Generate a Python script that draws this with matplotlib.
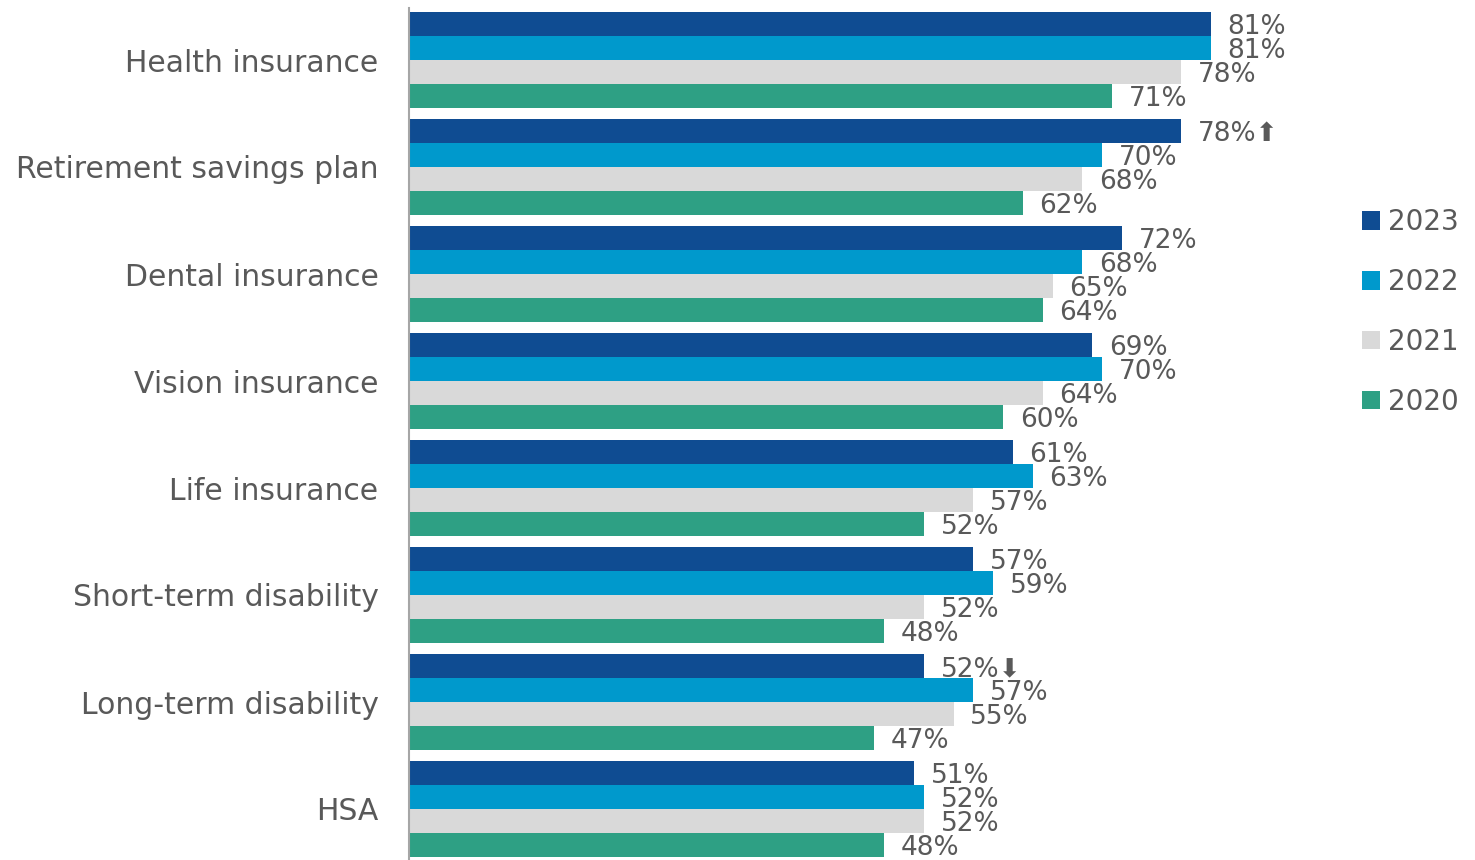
import matplotlib
matplotlib.use("Agg")
import matplotlib.pyplot as plt
from matplotlib.patches import Patch

categories = ["Health insurance", "Retirement savings plan", "Dental insurance",
              "Vision insurance", "Life insurance", "Short-term disability",
              "Long-term disability", "HSA"]
years = ["2023", "2022", "2021", "2020"]
v2023 = [81, 78, 72, 69, 61, 57, 52, 51]
v2022 = [81, 70, 68, 70, 63, 59, 57, 52]
v2021 = [78, 68, 65, 64, 57, 52, 55, 52]
v2020 = [71, 62, 64, 60, 52, 48, 47, 48]
arrows_2023 = {1: "\u2B06", 6: "\u2B07"}
colors = ["#0F4C92", "#0099CC", "#D9D9D9", "#2EA084"]
series = [v2023, v2022, v2021, v2020]

W, H = 1475, 860
fig = plt.figure(figsize=(W / 100, H / 100), dpi=100)
ax_left, ax_right = 409 / W, 1399 / W
ax_top, ax_bot = 1 - 8 / H, 0.0
ax = fig.add_axes([ax_left, ax_bot, ax_right - ax_left, ax_top - ax_bot])

bar_h = 1.0
pitch = 107 / 24
text_color = "#595959"
fs = 19

for j, (vals, col) in enumerate(zip(series, colors)):
    ys = [i * pitch + j + 0.5 for i in range(len(categories))]
    ax.barh(ys, vals, height=bar_h, color=col, edgecolor="none")
    for i, (y, v) in enumerate(zip(ys, vals)):
        label = f"{v}%"
        if j == 0 and i in arrows_2023:
            label += arrows_2023[i]
        ax.annotate(label, (v, y), xytext=(12, -2.5), textcoords="offset points",
                    ha="left", va="center", fontsize=fs, color=text_color,
                    annotation_clip=False)

centers = [i * pitch + 2 for i in range(len(categories))]
ax.set_yticks(centers)
ax.set_yticklabels(categories, fontsize=21.5, color=text_color)
ax.tick_params(axis="y", length=0, pad=22)
ax.set_xticks([])
last = (len(categories) - 1) * pitch + 4
ax.set_ylim(last + 3 / 24, -4 / 24)
ax.set_xlim(0, 100)
for s in ["top", "right", "bottom"]:
    ax.spines[s].set_visible(False)
ax.spines["left"].set_color("#A6A6A6")
ax.spines["left"].set_linewidth(1.5)

handles = [Patch(facecolor=c, edgecolor="none") for c in colors]
fig.legend(handles, years, loc="center left", bbox_to_anchor=(1337 / W, 1 - 312 / H),
           frameon=False, fontsize=20, labelcolor=text_color,
           handlelength=0.65, handleheight=0.65, handletextpad=0.3, labelspacing=1.15)

fig.savefig("out.png", dpi=100)
